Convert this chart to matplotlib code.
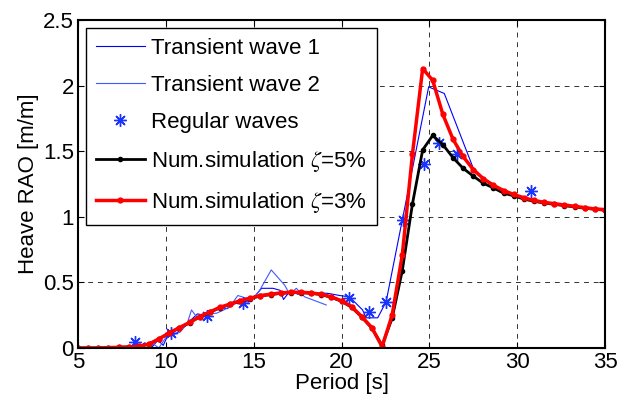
import numpy as np
import matplotlib.pyplot as plt

plt.rcParams['font.family'] = ['Liberation Sans', 'DejaVu Sans']
plt.rcParams['mathtext.fontset'] = 'stix'

# simulation grid (period, s)
period = [5.00, 5.58, 6.15, 6.73, 7.31, 7.88, 8.46, 9.04, 9.62, 10.19,
          10.77, 11.35, 11.92, 12.50, 13.08, 13.65, 14.23, 14.81, 15.38, 15.96,
          16.54, 17.12, 17.69, 18.27, 18.85, 19.42, 20.00, 20.58, 21.15, 21.73,
          22.31, 22.88, 23.46, 24.04, 24.62, 25.19, 25.77, 26.35, 26.92, 27.50,
          28.08, 28.65, 29.23, 29.81, 30.38, 30.96, 31.54, 32.12, 32.69, 33.27,
          33.85, 34.42, 35.00]

rao_3 = [0.0, 0.0, 0.0, 0.003, 0.005, 0.008, 0.012, 0.03, 0.07, 0.115,
         0.155, 0.195, 0.24, 0.275, 0.31, 0.335, 0.36, 0.38, 0.40, 0.41,
         0.42, 0.425, 0.425, 0.42, 0.41, 0.39, 0.36, 0.315, 0.24, 0.155,
         0.01, 0.25, 0.71, 1.48, 2.13, 2.04, 1.78, 1.59, 1.46, 1.36,
         1.29, 1.24, 1.20, 1.17, 1.145, 1.125, 1.11, 1.10, 1.09, 1.08,
         1.07, 1.06, 1.055]

rao_5 = [0.0, 0.0, 0.0, 0.003, 0.005, 0.008, 0.012, 0.03, 0.07, 0.113,
         0.152, 0.192, 0.237, 0.272, 0.307, 0.332, 0.357, 0.377, 0.397, 0.407,
         0.417, 0.422, 0.422, 0.417, 0.407, 0.386, 0.356, 0.31, 0.236, 0.15,
         0.02, 0.226, 0.59, 1.10, 1.51, 1.62, 1.55, 1.45, 1.37, 1.31,
         1.255, 1.22, 1.18, 1.16, 1.135, 1.118, 1.105, 1.095, 1.085, 1.075,
         1.065, 1.058, 1.05]

# transient wave tests
tw1_T = [8.4, 8.8, 9.2, 9.55, 9.85, 10.2, 10.6, 11.0, 11.4, 11.8,
         12.2, 12.6, 13.0, 13.5, 13.9, 14.3, 14.7, 15.1, 15.45, 16.1,
         16.5, 16.7, 17.1, 17.5, 17.9, 18.4, 18.9, 19.3, 19.9, 20.45,
         21.2, 21.4, 22.06, 22.54, 24.96, 25.85, 27.5, 28.0, 28.6, 29.2,
         29.8, 30.4, 31.0, 31.6, 32.2, 32.8, 33.4, 34.0, 34.6, 35.0]
tw1_rao = [0.0, 0.04, 0.005, 0.06, 0.02, 0.12, 0.11, 0.17, 0.21, 0.26,
           0.25, 0.28, 0.31, 0.30, 0.34, 0.36, 0.35, 0.40, 0.455, 0.455,
           0.44, 0.37, 0.44, 0.41, 0.42, 0.41, 0.42, 0.415, 0.40, 0.39,
           0.29, 0.23, 0.23, 0.353, 1.99, 1.94, 1.37, 1.30, 1.25, 1.205,
           1.17, 1.145, 1.125, 1.11, 1.10, 1.09, 1.08, 1.07, 1.06, 1.055]

tw2_T = [8.5, 8.9, 9.3, 9.6, 10.0, 10.4, 10.8, 11.2, 11.46, 11.74,
         12.2, 12.88, 13.3, 13.64, 14.1, 14.58, 15.0, 15.3, 16.0, 16.76,
         17.05, 17.43, 17.9, 18.5, 19.13]
tw2_rao = [0.01, 0.0, 0.03, 0.0, 0.08, 0.10, 0.12, 0.18, 0.29, 0.24,
           0.26, 0.265, 0.29, 0.315, 0.40, 0.38, 0.38, 0.43, 0.595, 0.48,
           0.41, 0.455, 0.39, 0.36, 0.328]

# regular wave tests
reg_T = [8.24, 10.32, 12.33, 14.42, 20.45, 21.55, 22.54, 23.48, 24.68, 25.57, 26.6, 30.78]
reg_rao = [0.048, 0.115, 0.245, 0.34, 0.383, 0.277, 0.353, 0.976, 1.40, 1.56, 1.48, 1.20]

fs = 16

fig = plt.figure(figsize=(6.17, 4.04), dpi=100)
ax = fig.add_axes([0.1264, 0.1386, 0.8542, 0.8119])

ax.plot(tw1_T, tw1_rao, color=(0, 0, 1), lw=0.8, label='Transient wave 1')
ax.plot(tw2_T, tw2_rao, color=(0.25, 0.35, 1), lw=0.8, label='Transient wave 2')
ax.plot(reg_T, reg_rao, ls='none', marker=(8, 2, 0), ms=9, mew=1.0,
        color=(0.1, 0.2, 1), label='Regular waves')
ax.plot(period, rao_5, color='k', lw=2.0, marker='o', ms=3,
        label=r'Num.simulation $\zeta$=5%')
ax.plot(period, rao_3, color='r', lw=2.5, marker='o', ms=3.5,
        label=r'Num.simulation $\zeta$=3%')

ax.set_xlim(5, 35)
ax.set_ylim(0, 2.5)
ax.set_xticks([5, 10, 15, 20, 25, 30, 35])
ax.set_yticks([0, 0.5, 1, 1.5, 2, 2.5])
ax.set_yticklabels(['0', '0.5', '1', '1.5', '2', '2.5'])
ax.grid(True, color='k', ls=(0, (5, 5)), lw=0.7, alpha=0.8)
ax.tick_params(direction='in', labelsize=fs, length=4, width=0.8,
               top=True, right=True, pad=3)
for s in ax.spines.values():
    s.set_linewidth(1.5)

ax.set_xlabel('Period [s]', fontsize=fs, labelpad=0)
ax.set_ylabel('Heave RAO [m/m]', fontsize=fs, labelpad=3)

leg = ax.legend(loc='upper left', fontsize=fs, handlelength=2.2,
                handletextpad=0.3, labelspacing=0.72, borderpad=0.45,
                fancybox=False, framealpha=1, edgecolor='k',
                borderaxespad=0.35)
leg.get_frame().set_linewidth(1.0)

fig.savefig('out.png', dpi=100)
